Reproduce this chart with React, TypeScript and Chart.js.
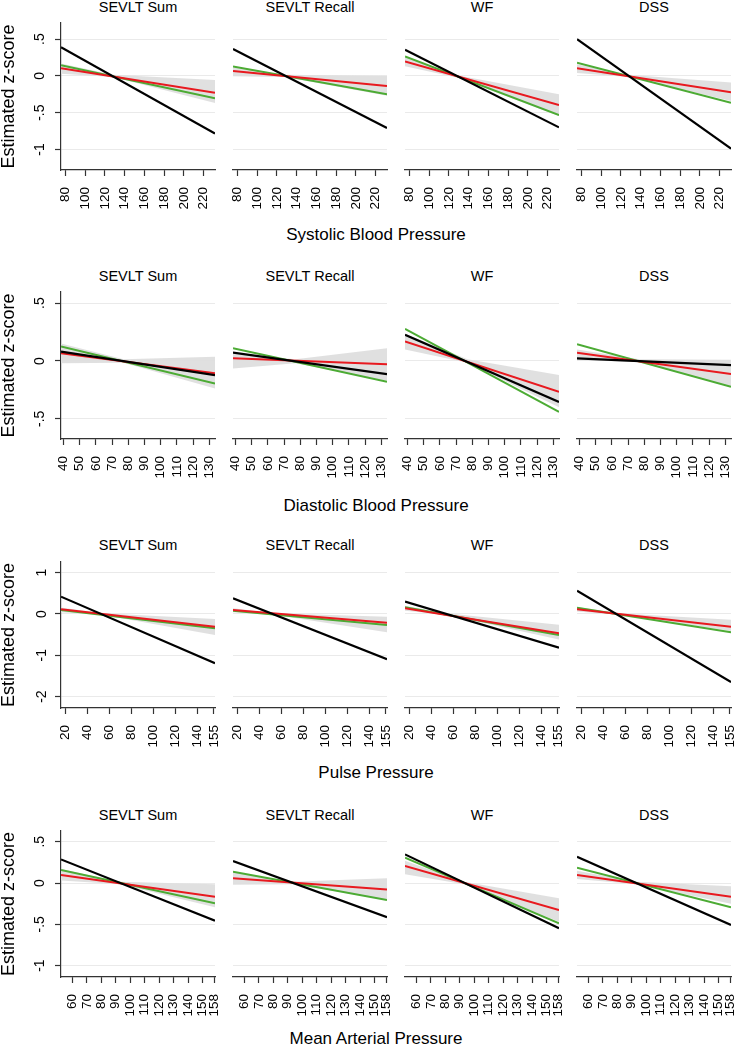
import React, { useEffect, useRef } from "react";
import { Chart, registerables } from "chart.js";

Chart.register(...registerables);

// ---------- DATA ----------
const panelTitles = ["SEVLT Sum", "SEVLT Recall", "WF", "DSS"];
const rowTitles = ["Systolic Blood Pressure", "Diastolic Blood Pressure", "Pulse Pressure", "Mean Arterial Pressure"];
const yAxisTitle = "Estimated z-score";

// Systolic
const sbpRange = [75.4, 231.6];
const sbpTicks = [80, 100, 120, 140, 160, 180, 200, 220];
const sbpYRange = [-1.28, 0.72];
const sbpYTicks = [0.5, 0, -0.5, -1];
const sbpYLabels = [".5", "0", "-.5", "-1"];
const sbpBlack = [[0.39, -0.785], [0.365, -0.708], [0.356, -0.7], [0.5, -0.99]];
const sbpRed = [[0.105, -0.23], [0.068, -0.137], [0.196, -0.397], [0.105, -0.223]];
const sbpGreen = [[0.146, -0.305], [0.127, -0.25], [0.265, -0.534], [0.18, -0.365]];
const sbpBandX = [75.4, 128, 231.6];
const sbpBandLo = [[0.03, -0.015, -0.37], [-0.005, -0.015, -0.27], [0.13, -0.02, -0.545], [0.04, -0.015, -0.34]];
const sbpBandHi = [[0.17, 0.015, -0.055], [0.115, 0.015, 0.0], [0.26, 0.01, -0.25], [0.16, 0.015, -0.09]];

// Diastolic
const dbpRange = [38.4, 133.6];
const dbpTicks = [40, 50, 60, 70, 80, 90, 100, 110, 120, 130];
const dbpYRange = [-0.674, 0.596];
const dbpYTicks = [0.5, 0, -0.5];
const dbpYLabels = [".5", "0", "-.5"];
const dbpBlack = [[0.081, -0.122], [0.072, -0.113], [0.226, -0.354], [0.023, -0.035]];
const dbpRed = [[0.067, -0.107], [0.023, -0.029], [0.168, -0.267], [0.072, -0.113]];
const dbpGreen = [[0.125, -0.194], [0.11, -0.18], [0.278, -0.44], [0.145, -0.223]];
const dbpBandX = [38.4, 77, 133.6];
const dbpBandLo = [[-0.02, -0.015, -0.237], [-0.065, -0.02, -0.17], [0.1, -0.015, -0.4], [0.01, -0.01, -0.22]];
const dbpBandHi = [[0.15, 0.015, 0.037], [0.06, 0.015, 0.11], [0.235, 0.015, -0.12], [0.1, 0.015, 0.01]];

// Pulse
const ppRange = [15.9, 156];
const ppTicks = [20, 40, 60, 80, 100, 120, 140, 155];
const ppYRange = [-2.276, 1.259];
const ppYTicks = [1, 0, -1, -2];
const ppYLabels = ["1", "0", "-1", "-2"];
const ppBlack = [[0.42, -1.19], [0.38, -1.097], [0.3, -0.815], [0.565, -1.65]];
const ppRed = [[0.113, -0.306], [0.097, -0.21], [0.137, -0.468], [0.113, -0.306]];
const ppGreen = [[0.097, -0.347], [0.08, -0.266], [0.162, -0.51], [0.153, -0.444]];
const ppBandX = [15.9, 53, 156];
const ppBandLo = [[0.04, -0.02, -0.51], [0.04, -0.02, -0.44], [0.08, -0.02, -0.62], [0.06, -0.02, -0.41]];
const ppBandHi = [[0.16, 0.02, -0.12], [0.14, 0.02, -0.065], [0.2, 0.02, -0.26], [0.17, 0.02, -0.14]];

// Mean arterial
const mapRange = [52.2, 158.5];
const mapTicks = [60, 70, 80, 90, 100, 110, 120, 130, 140, 150, 158];
const mapYRange = [-1.138, 0.63];
const mapYTicks = [0.5, 0, -0.5, -1];
const mapYLabels = [".5", "0", "-.5", "-1"];
const mapBlack = [[0.286, -0.456], [0.266, -0.415], [0.347, -0.548], [0.319, -0.508]];
const mapRed = [[0.097, -0.166], [0.057, -0.077], [0.206, -0.327], [0.097, -0.166]];
const mapGreen = [[0.157, -0.246], [0.137, -0.206], [0.306, -0.488], [0.185, -0.294]];
const mapBandX = [52.2, 93, 158.5];
const mapBandLo = [[0.03, -0.015, -0.294], [-0.02, -0.015, -0.2], [0.105, -0.015, -0.468], [0.05, -0.015, -0.25]];
const mapBandHi = [[0.17, 0.015, -0.016], [0.13, 0.015, 0.057], [0.27, 0.015, -0.185], [0.15, 0.015, -0.04]];

const rows = [
  { xRange: sbpRange, xTicks: sbpTicks, yRange: sbpYRange, yTicks: sbpYTicks, yLabels: sbpYLabels, black: sbpBlack, red: sbpRed, green: sbpGreen, bandX: sbpBandX, bandLo: sbpBandLo, bandHi: sbpBandHi },
  { xRange: dbpRange, xTicks: dbpTicks, yRange: dbpYRange, yTicks: dbpYTicks, yLabels: dbpYLabels, black: dbpBlack, red: dbpRed, green: dbpGreen, bandX: dbpBandX, bandLo: dbpBandLo, bandHi: dbpBandHi },
  { xRange: ppRange, xTicks: ppTicks, yRange: ppYRange, yTicks: ppYTicks, yLabels: ppYLabels, black: ppBlack, red: ppRed, green: ppGreen, bandX: ppBandX, bandLo: ppBandLo, bandHi: ppBandHi },
  { xRange: mapRange, xTicks: mapTicks, yRange: mapYRange, yTicks: mapYTicks, yLabels: mapYLabels, black: mapBlack, red: mapRed, green: mapGreen, bandX: mapBandX, bandLo: mapBandLo, bandHi: mapBandHi },
];

// ---------- LAYOUT / STYLE ----------
const FONT = '"Liberation Sans", Arial, Helvetica, sans-serif';
const RED = "#e8191f";
const GREEN = "#4cab34";
const BAND = "rgba(222,222,222,0.95)";
const AXIS = "#333333";
const GRID = "#eaeaea";
const plotTops = [23, 292, 562, 831];
const plotHeights = [147, 147, 146, 146];
const colLefts = [61, 233, 405, 577];
const plotWidth = 154;
const titleCY = [7, 275.5, 545, 814.5];
const rowTitleCY = [235, 505.5, 773, 1039];
const PAD_TOP = 4;
const X_AXIS_H = 46;
const PAD_R = 8;

function pts(xs: number[], ys: number[]) {
  return xs.map((x, i) => ({ x, y: ys[i] }));
}

function Panel({ row, col }: { row: number; col: number }) {
  const ref = useRef<HTMLCanvasElement>(null);
  const first = col === 0;
  const yAxisW = first ? 61 : 0;
  const padL = first ? 0 : 8;
  const left = colLefts[col] - yAxisW - padL;
  const width = yAxisW + padL + plotWidth + PAD_R;
  const top = plotTops[row] - PAD_TOP;
  const height = PAD_TOP + plotHeights[row] + X_AXIS_H;

  useEffect(() => {
    const r = rows[row];
    const line = (data: any, color: string, order: number, w: number) => ({
      data,
      borderColor: color,
      borderWidth: w,
      pointRadius: 0,
      fill: false,
      order,
    });
    const chart = new Chart(ref.current as HTMLCanvasElement, {
      type: "line",
      data: {
        datasets: [
          line(pts(r.xRange, r.black[col]), "#000000", 1, 2.2),
          line(pts(r.xRange, r.red[col]), RED, 2, 2),
          line(pts(r.xRange, r.green[col]), GREEN, 3, 2),
          { data: pts(r.bandX, r.bandLo[col]), borderWidth: 0, pointRadius: 0, fill: false, order: 4, borderColor: "rgba(0,0,0,0)" },
          { data: pts(r.bandX, r.bandHi[col]), borderWidth: 0, pointRadius: 0, fill: "-1", backgroundColor: BAND, order: 5, borderColor: "rgba(0,0,0,0)" },
        ] as any,
      },
      options: {
        responsive: false,
        animation: false,
        devicePixelRatio: 1,
        layout: { padding: { left: padL, right: PAD_R, top: PAD_TOP, bottom: 0 } },
        plugins: {
          legend: { display: false },
          tooltip: { enabled: false },
          filler: { drawTime: "beforeDatasetsDraw" },
        } as any,
        scales: {
          x: {
            type: "linear",
            min: r.xRange[0],
            max: r.xRange[1],
            afterBuildTicks: (s: any) => {
              s.ticks = r.xTicks.map((v) => ({ value: v }));
            },
            ticks: {
              autoSkip: false,
              minRotation: 90,
              maxRotation: 90,
              padding: 11,
              color: "#000",
              font: { family: FONT, size: 13.5 },
              callback: (v: any) => String(v),
            },
            grid: { drawOnChartArea: false, drawTicks: true, tickLength: 6, tickColor: AXIS, tickWidth: 1.2 },
            border: { display: true, color: AXIS, width: 1.2 },
            afterFit: (s: any) => {
              s.height = X_AXIS_H;
              s.paddingLeft = 0;
              s.paddingRight = 0;
            },
          },
          y: {
            type: "linear",
            min: r.yRange[0],
            max: r.yRange[1],
            afterBuildTicks: (s: any) => {
              s.ticks = r.yTicks.map((v) => ({ value: v }));
            },
            ticks: first
              ? {
                  display: true,
                  minRotation: 90,
                  maxRotation: 90,
                  crossAlign: "center",
                  padding: 7,
                  color: "#000",
                  font: { family: FONT, size: 14 },
                  callback: (v: any) => {
                    const i = r.yTicks.indexOf(Number(v));
                    return i >= 0 ? r.yLabels[i] : "";
                  },
                }
              : { display: false },
            grid: { color: GRID, lineWidth: 1, drawTicks: first, tickLength: 6, tickColor: AXIS, tickWidth: 1.2 },
            border: { display: first, color: AXIS, width: 1.2 },
            title: first
              ? { display: true, text: yAxisTitle, color: "#000", padding: 0, font: { family: FONT, size: 18, lineHeight: 1 } }
              : { display: false },
            afterFit: (s: any) => {
              s.width = yAxisW;
              s.paddingTop = 0;
              s.paddingBottom = 0;
            },
          },
        } as any,
      },
    });
    return () => chart.destroy();
  }, [row, col]);

  return (
    <canvas
      ref={ref}
      width={width}
      height={height}
      style={{ position: "absolute", left, top, width, height }}
    />
  );
}

export default function App() {
  const items: any[] = [];
  for (let r = 0; r < 4; r++) {
    for (let c = 0; c < 4; c++) {
      items.push(<Panel key={`p${r}-${c}`} row={r} col={c} />);
      items.push(
        <div
          key={`t${r}-${c}`}
          style={{
            position: "absolute",
            left: colLefts[c],
            width: plotWidth,
            top: titleCY[r] - 8,
            height: 16,
            lineHeight: "16px",
            textAlign: "center",
            fontFamily: FONT,
            fontSize: 14.5,
            color: "#000",
            whiteSpace: "nowrap",
          }}
        >
          {panelTitles[c]}
        </div>
      );
    }
    items.push(
      <div
        key={`rt${r}`}
        style={{
          position: "absolute",
          left: 176,
          width: 400,
          top: rowTitleCY[r] - 10,
          height: 20,
          lineHeight: "20px",
          textAlign: "center",
          fontFamily: FONT,
          fontSize: 17,
          color: "#000",
          whiteSpace: "nowrap",
        }}
      >
        {rowTitles[r]}
      </div>
    );
  }
  return (
    <div
      style={{
        position: "absolute",
        left: 0,
        top: 0,
        width: 736,
        height: 1050,
        overflow: "hidden",
        background: "#ffffff",
      }}
    >
      {items}
    </div>
  );
}
